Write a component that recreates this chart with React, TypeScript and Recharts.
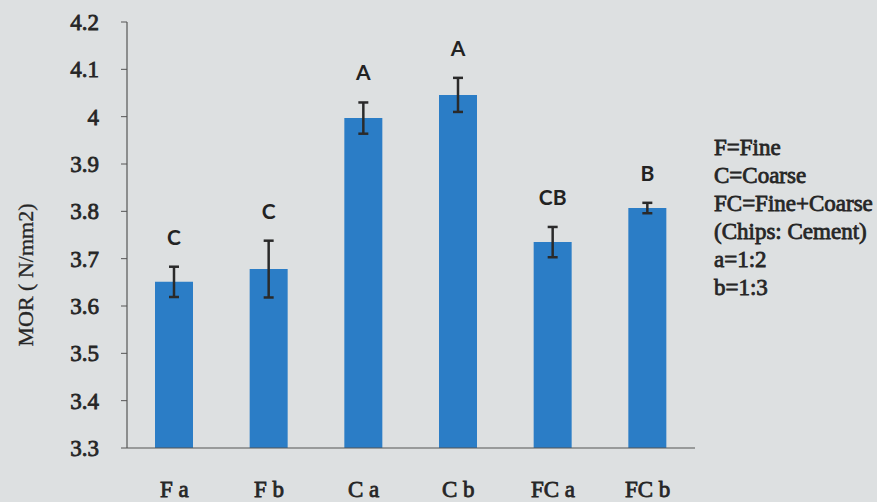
import React from "react";
import {
  BarChart,
  Bar,
  XAxis,
  YAxis,
  ErrorBar,
  LabelList,
} from "recharts";

// values
const categories = ["F a", "F b", "C a", "C b", "FC a", "FC b"];
const morValues = [3.651, 3.678, 3.997, 4.046, 3.735, 3.807];
const morErrors = [0.032, 0.06, 0.033, 0.036, 0.032, 0.011];
const groupLetters = ["C", "C", "A", "A", "CB", "B"];
const yTicks = [3.3, 3.4, 3.5, 3.6, 3.7, 3.8, 3.9, 4, 4.1, 4.2];
const notes = [
  "F=Fine",
  "C=Coarse",
  "FC=Fine+Coarse",
  "(Chips: Cement)",
  "a=1:2",
  "b=1:3",
];

const data = categories.map((name, i) => ({
  name,
  mor: morValues[i],
  err: morErrors[i],
  letter: groupLetters[i],
}));

const W = 877;
const H = 502;
const TOP = 22;
const BOTTOM_Y = 448;
const pxPerUnit = (BOTTOM_Y - TOP) / (4.2 - 3.3);

const serif = "Liberation Serif";
const textColor = "#262626";

// regular serif with a thin stroke so it reads as bold
const YTick = (props: any) => {
  const { x, y, payload } = props;
  return (
    <text
      x={x}
      y={y}
      dy={8}
      textAnchor="end"
      fontFamily={serif}
      fontSize={23}
      fill={textColor}
      stroke={textColor}
      strokeWidth={0.8}
    >
      {String(Number(payload.value.toFixed(1)))}
    </text>
  );
};

const XTick = (props: any) => {
  const { x, payload } = props;
  return (
    <text
      x={x}
      y={497}
      textAnchor="middle"
      fontFamily={serif}
      fontSize={23}
      fill={textColor}
      stroke={textColor}
      strokeWidth={0.8}
    >
      {payload.value}
    </text>
  );
};

const LetterLabel = (props: any) => {
  const { x, y, width, value, index } = props;
  const err = index != null ? morErrors[index] : 0.03;
  const cy = y - err * pxPerUnit - 22;
  return (
    <text
      x={x + width / 2}
      y={cy}
      textAnchor="middle"
      fontFamily="Lato, 'Open Sans', sans-serif"
      fontWeight={700}
      fontSize={21}
      fill="#222"
    >
      {value}
    </text>
  );
};

const App = () => {
  return (
    <div
      style={{
        position: "fixed",
        left: 0,
        top: 0,
        width: W,
        height: H,
        background: "#dde0e1",
      }}
    >
      <BarChart
        width={W}
        height={H}
        data={data}
        margin={{ top: TOP, right: 182, left: 0, bottom: 24 }}
        barSize={38}
      >
        <XAxis
          xAxisId="ticks"
          type="number"
          domain={[0, 6]}
          ticks={[0, 1, 2, 3, 4, 5, 6]}
          tickFormatter={() => ""}
          height={0}
          axisLine={false}
          tickLine={{ stroke: "#555" }}
          tickSize={6}
        />
        <XAxis
          xAxisId="cat"
          dataKey="name"
          height={30}
          axisLine={{ stroke: "#555", strokeWidth: 1.2 }}
          tickLine={false}
          tickSize={0}
          tick={<XTick />}
        />
        <YAxis
          width={127}
          domain={[3.3, 4.2]}
          ticks={yTicks}
          allowDataOverflow
          axisLine={{ stroke: "#555", strokeWidth: 1.2 }}
          tickLine={{ stroke: "#555" }}
          tickSize={6}
          tickMargin={22}
          tick={<YTick />}
          label={{
            content: () => (
              <text
                x={33}
                y={275}
                transform="rotate(-90 33 275)"
                textAnchor="middle"
                fontFamily={serif}
                fontSize={22}
                fill={textColor}
                stroke={textColor}
                strokeWidth={0.3}
              >
                MOR ( N/mm2)
              </text>
            ),
          }}
        />
        <Bar
          xAxisId="cat"
          dataKey="mor"
          fill="#2b7dc6"
          isAnimationActive={false}
        >
          <ErrorBar
            dataKey="err"
            width={5}
            stroke="#2a2a2a"
            strokeWidth={2.5}
          />
          <LabelList dataKey="letter" content={LetterLabel} />
        </Bar>
      </BarChart>
      <div
        style={{
          position: "absolute",
          left: 714,
          top: 134,
          fontFamily: serif,
          fontSize: 23,
          color: textColor,
          WebkitTextStroke: "0.8px " + textColor,
          lineHeight: "28px",
          whiteSpace: "nowrap",
        }}
      >
        {notes.map((n) => (
          <div key={n}>{n}</div>
        ))}
      </div>
    </div>
  );
};

export default App;
